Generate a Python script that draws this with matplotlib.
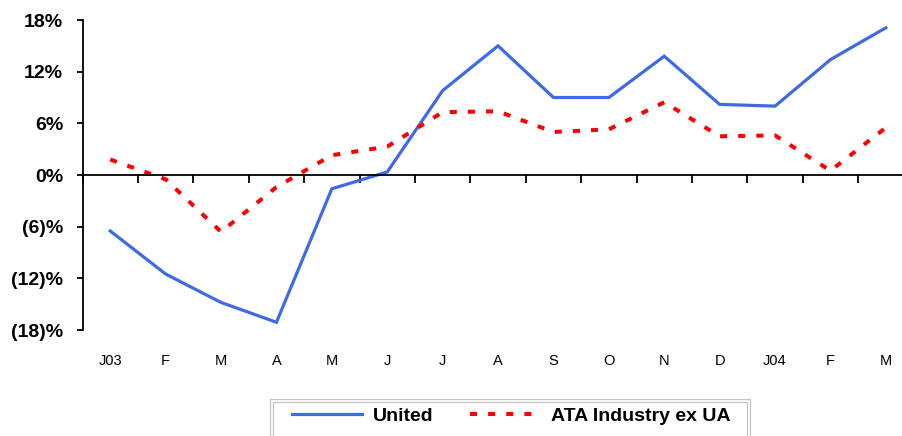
import numpy as np
import matplotlib
matplotlib.use("Agg")
import matplotlib.pyplot as plt
from matplotlib.patches import Rectangle

# month labels
months = ["J03", "F", "M", "A", "M", "J", "J", "A", "S", "O", "N", "D", "J04", "F", "M"]

# series values (percent)
united = [-6.5, -11.5, -14.8, -17.1, -1.6, 0.35, 9.8, 15.0, 9.0, 9.0, 13.8, 8.2, 8.0, 13.4, 17.1]
ata_ex_ua = [1.8, -0.5, -6.6, -1.4, 2.3, 3.3, 7.3, 7.4, 5.0, 5.3, 8.45, 4.5, 4.6, 0.5, 5.5]

# y ticks
yticks = [18, 12, 6, 0, -6, -12, -18]
ytick_labels = ["18%", "12%", "6%", "0%", "(6)%", "(12)%", "(18)%"]

plt.rcParams['font.family'] = ['Liberation Sans', 'DejaVu Sans']

fig = plt.figure(figsize=(9.02, 4.36), dpi=100)
ax = fig.add_axes([0.0915, 0.2431, 0.9213, 0.711])

x = np.arange(len(months))
ax.plot(x, united, color='#3f6ae6', linewidth=2.3, solid_joinstyle='miter', label='United')
ax.plot(x, ata_ex_ua, color='#ff0000', linewidth=2.9, linestyle=(0, (1.75, 2.75)),
        label='ATA Industry ex UA')

ax.set_xlim(-0.5, len(months) - 0.5)
ax.set_ylim(-18, 18)

# spines
for s in ['top', 'right']:
    ax.spines[s].set_visible(False)
ax.spines['left'].set_linewidth(1.3)
ax.spines['bottom'].set_position(('data', 0))
ax.spines['bottom'].set_linewidth(1.3)

ax.set_yticks(yticks)
ax.set_yticklabels(ytick_labels, fontsize=14, fontweight='bold')
ax.tick_params(axis='y', direction='out', length=4, width=1.3, pad=10)

# category boundary ticks on the zero line
ax.set_xticks(np.arange(len(months) + 1) - 0.5)
ax.set_xticklabels([])
ax.tick_params(axis='x', direction='out', length=5.5, width=1.3)

# month labels at the bottom of the plot
sec = ax.secondary_xaxis(0)
sec.spines['bottom'].set_visible(False)
sec.set_xticks(x)
sec.set_xticklabels(months, fontsize=10.5)
sec.tick_params(axis='x', length=0, pad=17)

# legend (box runs off the bottom of the picture, double grey border)
leg = fig.legend(loc='center left', bbox_to_anchor=(292 / 902, 1 - 416 / 436), ncol=2,
                 frameon=False, prop={'size': 14, 'weight': 'bold'},
                 handlelength=3.6, handletextpad=0.57, columnspacing=1.85,
                 borderpad=0, borderaxespad=0)
W, H = 902.0, 436.0
fig.patches.append(Rectangle((270 / W, -0.05), 480 / W, 0.05 + 37 / H, transform=fig.transFigure,
                             fill=False, edgecolor='#c4c4c4', linewidth=0.9))
fig.patches.append(Rectangle((273 / W, -0.05), 474 / W, 0.05 + 34 / H, transform=fig.transFigure,
                             fill=False, edgecolor='#c4c4c4', linewidth=0.9))

fig.savefig("out.png", dpi=100)
